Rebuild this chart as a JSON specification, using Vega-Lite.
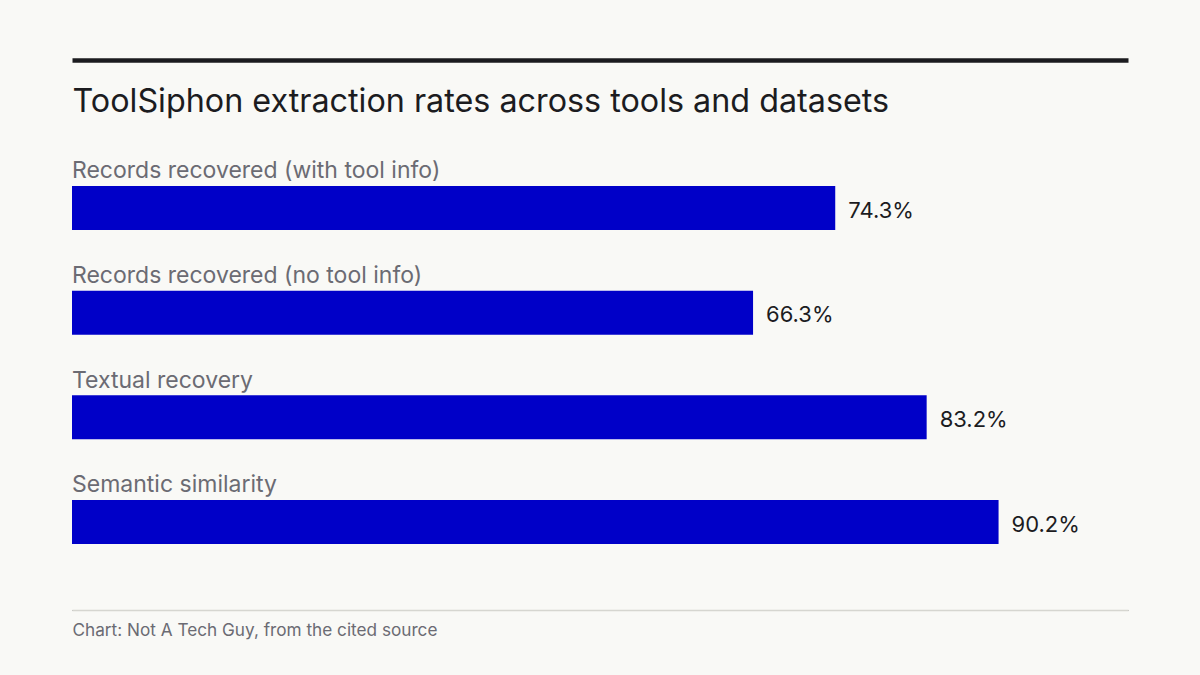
{
  "$schema": "https://vega.github.io/schema/vega-lite/v6.json",
  "width": 1056,
  "height": 550,
  "autosize": "none",
  "padding": {"left": 72, "right": 72, "top": 60, "bottom": 65},
  "background": "#f9f9f6",
  "config": {
    "view": {"stroke": null},
    "font": "Inter",
    "axis": {"grid": false, "ticks": false, "labels": false}
  },
  "data": {
    "values": [
      {"metric": "Records recovered (with tool info)", "rate": 0.743},
      {"metric": "Records recovered (no tool info)", "rate": 0.663},
      {"metric": "Textual recovery", "rate": 0.832},
      {"metric": "Semantic similarity", "rate": 0.902}
    ]
  },
  "encoding": {
    "y": {
      "field": "metric",
      "type": "nominal",
      "sort": null,
      "axis": null,
      "scale": {"paddingInner": 0, "paddingOuter": 0.6274, "align": 0.7285}
    }
  },
  "layer": [
    {
      "mark": {"type": "bar", "color": "#0000c8", "height": 44},
      "encoding": {
        "x": {
          "field": "rate",
          "type": "quantitative",
          "scale": {"domain": [0, 1.028], "nice": false},
          "axis": {
            "orient": "top",
            "domain": true,
            "domainColor": "#1c1c1f",
            "domainWidth": 4.5,
            "domainCap": "butt",
            "title": "ToolSiphon extraction rates across tools and datasets",
            "titleX": 0,
            "titleY": 51.7,
            "titleAlign": "left",
            "titleAnchor": "start",
            "titleBaseline": "alphabetic",
            "titleFontSize": 32.3,
            "titleFontWeight": "normal",
            "titleColor": "#1c1c1f"
          }
        }
      }
    },
    {
      "mark": {"type": "text", "align": "left", "baseline": "alphabetic", "dy": -29.7, "fontSize": 23, "color": "#6b6b73"},
      "encoding": {
        "x": {"datum": 0, "type": "quantitative"},
        "text": {"field": "metric"}
      }
    },
    {
      "mark": {"type": "text", "align": "left", "baseline": "alphabetic", "dx": 13, "dy": 9.7, "fontSize": 22, "color": "#1c1c1f"},
      "encoding": {
        "x": {
          "field": "rate",
          "type": "quantitative",
          "axis": {
            "orient": "bottom",
            "domain": true,
            "domainColor": "#d6d6d0",
            "domainWidth": 1.5,
            "title": "Chart: Not A Tech Guy, from the cited source",
            "titleX": 0,
            "titleY": 25,
            "titleAlign": "left",
            "titleAnchor": "start",
            "titleBaseline": "alphabetic",
            "titleFontSize": 17.2,
            "titleFontWeight": "normal",
            "titleColor": "#6b6b73"
          }
        },
        "text": {"field": "rate", "format": ".1%"}
      }
    }
  ],
  "resolve": {"axis": {"x": "independent"}}
}
